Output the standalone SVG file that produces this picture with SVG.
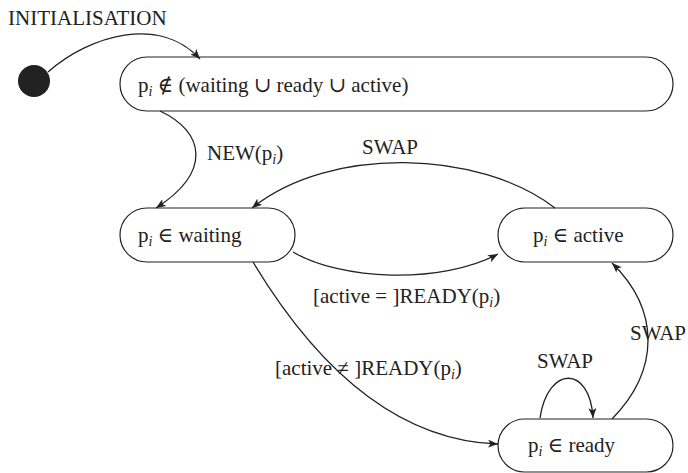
<svg xmlns="http://www.w3.org/2000/svg" width="688" height="473" viewBox="0 0 688 473">
<style>
.node{fill:#fff;stroke:#222;stroke-width:1.2}
.edge{fill:none;stroke:#222;stroke-width:1.3}
text{font-family:"Liberation Serif","DejaVu Serif",serif;font-size:21px;fill:#222}
.sub{font-style:italic;font-size:14px}
</style>
<defs>
<marker id="arr" viewBox="0 0 10 8" refX="10" refY="4" markerWidth="10" markerHeight="8" markerUnits="userSpaceOnUse" orient="auto">
<path d="M0,0 L10,4 L0,8 L2.5,4 Z" fill="#222"/>
</marker>
</defs>
<rect width="688" height="473" fill="#fff"/>
<g id="start"><circle cx="34" cy="81" r="16" fill="#222"/></g>
<g id="n_none"><rect class="node" x="120" y="57" width="553" height="54" rx="27" ry="27"/>
<text x="138" y="92">p<tspan class="sub" dy="4">i</tspan><tspan dy="-4"> ∉ (waiting ∪ ready ∪ active)</tspan></text></g>
<g id="n_waiting"><rect class="node" x="120" y="208" width="175" height="54" rx="27" ry="27"/>
<text x="138" y="242">p<tspan class="sub" dy="4">i</tspan><tspan dy="-4"> ∈ waiting</tspan></text></g>
<g id="n_active"><rect class="node" x="498" y="208" width="175" height="54" rx="27" ry="27"/>
<text x="533" y="242">p<tspan class="sub" dy="4">i</tspan><tspan dy="-4"> ∈ active</tspan></text></g>
<g id="n_ready"><rect class="node" x="498" y="419" width="175" height="53" rx="26.5" ry="26.5"/>
<text x="528" y="452">p<tspan class="sub" dy="4">i</tspan><tspan dy="-4"> ∈ ready</tspan></text></g>
<g id="edges">
<path class="edge" marker-end="url(#arr)" d="M48,72 C90,35 160,15 200,59"/>
<path class="edge" marker-end="url(#arr)" d="M160,111 C205,132 212,172 156,208"/>
<path class="edge" marker-end="url(#arr)" d="M555,208 C480,150 330,145 252,208"/>
<path class="edge" marker-end="url(#arr)" d="M293,252 C340,280 440,285 498,254"/>
<path class="edge" marker-end="url(#arr)" d="M253,262 C300,340 380,440 498,444"/>
<path class="edge" marker-end="url(#arr)" d="M612,419 C660,370 660,310 612,263"/>
<path class="edge" marker-end="url(#arr)" d="M540,418 C548,365 590,365 593,418"/>
</g>
<g id="labels">
<text x="8" y="25">INITIALISATION</text>
<text x="207" y="160">NEW(p<tspan class="sub" dy="4">i</tspan><tspan dy="-4">)</tspan></text>
<text x="362" y="154">SWAP</text>
<text x="313" y="303">[active = ]READY(p<tspan class="sub" dy="4">i</tspan><tspan dy="-4">)</tspan></text>
<text x="275" y="375">[active ≠ ]READY(p<tspan class="sub" dy="4">i</tspan><tspan dy="-4">)</tspan></text>
<text x="537" y="368">SWAP</text>
<text x="630" y="340">SWAP</text>
</g>
</svg>
